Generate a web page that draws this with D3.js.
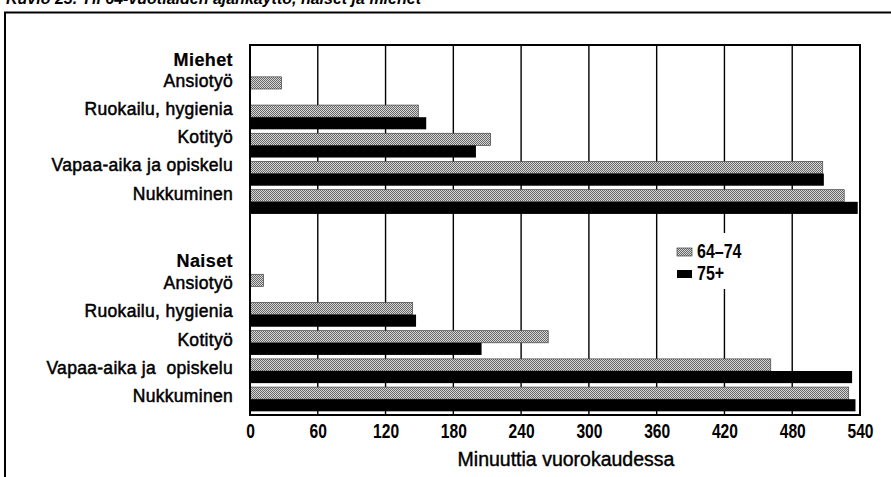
<!DOCTYPE html>
<html>
<head>
<meta charset="utf-8">
<script src="https://cdn.jsdelivr.net/npm/d3@7"></script>
<style>
  body { margin: 0; background: #fff; }
  text { font-family: "Liberation Sans", Arial, sans-serif; fill: #000; }
  .num { font-weight: bold; }
</style>
</head>
<body>
<svg id="chart" width="891" height="477"></svg>
<script>
// data (minutes per day)
var title = "Kuvio 23. Yli 64-vuotiaiden ajankäyttö, naiset ja miehet";
var groups = ["Miehet", "Naiset"];
var miehetLabels = ["Ansiotyö", "Ruokailu, hygienia", "Kotityö", "Vapaa-aika ja opiskelu", "Nukkuminen"];
var naisetLabels = ["Ansiotyö", "Ruokailu, hygienia", "Kotityö", "Vapaa-aika ja  opiskelu", "Nukkuminen"];
var miehet6474 = [28, 149, 213, 507, 526];
var miehet75 = [0, 156, 200, 508, 538];
var naiset6474 = [12, 144, 264, 461, 530];
var naiset75 = [0, 147, 205, 533, 536];
var series = ["64–74", "75+"];
var xTicks = [0, 60, 120, 180, 240, 300, 360, 420, 480, 540];
var xTitle = "Minuuttia vuorokaudessa";

var svg = d3.select("#chart");

// rows: header, 5 categories, blank, header, 5 categories
var rows = [];
var values = {Miehet: [miehet6474, miehet75], Naiset: [naiset6474, naiset75]};
var labels = {Miehet: miehetLabels, Naiset: naisetLabels};
groups.forEach(function(g, gi) {
  if (gi > 0) rows.push({id: "gap"});
  rows.push({id: g, header: true, group: g});
  labels[g].forEach(function(l, i) {
    rows.push({id: g + "|" + i, group: g, label: l, v1: values[g][0][i], v2: values[g][1][i]});
  });
});

var x = d3.scaleLinear().domain([0, 540]).range([250, 860]);
var y = d3.scaleBand().domain(rows.map(function(d) { return d.id; }))
  .range([45, 415]).paddingInner(0.14).paddingOuter(0.13);
var bw = y.bandwidth();

var defs = svg.append("defs");
var pat = defs.append("pattern").attr("id", "dots")
  .attr("width", 2).attr("height", 2).attr("patternUnits", "userSpaceOnUse");
pat.append("rect").attr("width", 2).attr("height", 2).attr("fill", "#d8d8d8");
pat.append("rect").attr("width", 1).attr("height", 1).attr("fill", "#666");
pat.append("rect").attr("x", 1).attr("y", 1).attr("width", 1).attr("height", 1).attr("fill", "#666");

// clipped title at the very top
svg.append("text").attr("x", 6).attr("y", 4)
  .style("font-size", "16px").style("font-weight", "bold").style("font-style", "italic")
  .text(title);

// outer frame
svg.append("path").attr("d", "M5,477V12.5H891")
  .attr("fill", "none").attr("stroke", "#000").attr("stroke-width", 2);

// gridlines
svg.append("g").selectAll("line")
  .data(xTicks.slice(1, -1))
  .enter().append("line")
    .attr("x1", function(d) { return x(d); })
    .attr("x2", function(d) { return x(d); })
    .attr("y1", 45).attr("y2", 415)
    .attr("stroke", "#000").attr("stroke-width", 1.4);

// bars
var barRows = rows.filter(function(d) { return d.label; });
svg.append("g").selectAll("rect")
  .data(barRows)
  .enter().append("rect")
    .attr("x", x(0))
    .attr("y", function(d) { return y(d.id); })
    .attr("width", function(d) { return x(d.v1) - x(0); })
    .attr("height", bw / 2)
    .attr("fill", "url(#dots)")
    .attr("stroke", "#444").attr("stroke-width", 0.7);
svg.append("g").selectAll("rect")
  .data(barRows)
  .enter().append("rect")
    .attr("x", x(0))
    .attr("y", function(d) { return y(d.id) + bw / 2; })
    .attr("width", function(d) { return x(d.v2) - x(0); })
    .attr("height", bw / 2)
    .attr("fill", "#000");

// plot border
svg.append("rect").attr("x", x(0)).attr("y", 45)
  .attr("width", x(540) - x(0)).attr("height", 370)
  .attr("fill", "none").attr("stroke", "#000").attr("stroke-width", 2);

// category labels
svg.append("g").selectAll("text")
  .data(rows.filter(function(d) { return d.group; }))
  .enter().append("text")
    .attr("x", 233)
    .attr("y", function(d) {
      var off;
      if (d.header) off = d.group === "Miehet" ? 17 : 20.5;
      else off = d.group === "Miehet" ? 10 : 15;
      return y(d.id) + off;
    })
    .attr("text-anchor", "end")
    .style("white-space", "pre")
    .style("font-size", function(d) { return d.header ? "18px" : "17.5px"; })
    .style("font-weight", function(d) { return d.header ? "bold" : "normal"; })
    .style("letter-spacing", function(d) { return d.header ? "0.4px" : "0.3px"; })
    .style("stroke", "#000")
    .style("stroke-width", function(d) { return d.header ? 0.2 : 0.5; })
    .text(function(d) { return d.header ? d.group : d.label; });

// x axis
var ax = svg.append("g").attr("transform", "translate(0,415)")
  .call(d3.axisBottom(x).tickValues(xTicks).tickSize(0).tickPadding(9.5).tickFormat(d3.format("d")));
ax.select(".domain").remove();
ax.selectAll("text").attr("class", "num").attr("transform", "scale(0.8,1)")
  .style("font-size", "19.5px").style("fill", "#000");

svg.append("text").attr("x", 566).attr("y", 466)
  .attr("text-anchor", "middle").style("font-size", "19.5px")
  .style("stroke", "#000").style("stroke-width", 0.4)
  .text(xTitle);

// legend
var lg = svg.append("g");
lg.append("rect").attr("x", 668).attr("y", 233).attr("width", 92).attr("height", 56).attr("fill", "#fff");
var items = lg.selectAll("g.item").data(series).enter().append("g")
  .attr("transform", function(d, i) { return "translate(677," + (248 + i * 22) + ")"; });
items.append("rect").attr("width", 15).attr("height", 8)
  .attr("fill", function(d, i) { return i === 0 ? "url(#dots)" : "#000"; })
  .attr("stroke", function(d, i) { return i === 0 ? "#444" : "none"; }).attr("stroke-width", 0.7);
items.append("text").attr("class", "num").attr("transform", "translate(20,10) scale(0.82,1)")
  .style("font-size", "19.5px").text(function(d) { return d; });
</script>
</body>
</html>
